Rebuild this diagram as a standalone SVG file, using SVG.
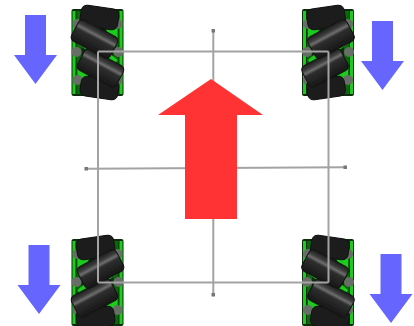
<svg xmlns="http://www.w3.org/2000/svg" xmlns:xlink="http://www.w3.org/1999/xlink" width="414" height="326" viewBox="0 0 414 326">
<defs>
<linearGradient id="rg" x1="0" y1="0" x2="0" y2="1">
<stop offset="0" stop-color="#1c1c1c"/><stop offset="0.2" stop-color="#3c3c3c"/><stop offset="0.33" stop-color="#6e6e6e"/><stop offset="0.45" stop-color="#2e2e2e"/><stop offset="1" stop-color="#161616"/>
</linearGradient>
<filter id="soft" x="-5%" y="-5%" width="110%" height="110%"><feGaussianBlur stdDeviation="0.6"/></filter>
<style>
.ln{stroke:#a3a3a3;stroke-width:2;fill:none}
.tip{fill:#777}
.blue{fill:#6666ff}
.red{fill:#ff3333}
.g0{fill:#0b2e0b}
.g1{fill:#0a660a}
.g2{fill:#1fcc1f}
.ball{fill:#666e66}
.r{fill:url(#rg);stroke:#121212;stroke-width:1}
.rd{fill:#1e1e1e;stroke:#111;stroke-width:1}
</style>
<g id="wheel" filter="url(#soft)">
<rect x="-26" y="-43" width="52" height="87" rx="2" class="g0"/>
<rect x="-25" y="-41" width="3" height="83" class="g2"/>
<rect x="22" y="-41" width="3" height="83" class="g2"/>
<rect x="-21" y="-41" width="5" height="83" class="g1"/>
<rect x="16" y="-41" width="5" height="83" class="g1"/>
<polygon points="-20,-20 -8,-16 20,8 16,14 4,8 -20,-8" class="g2"/>
<polygon points="-20,12 -6,20 -14,30 -20,26" class="g2"/>
<polygon points="8,-24 20,-26 20,-8 14,-10" class="g2"/>
<circle cx="-20" cy="-28" r="5" class="ball"/>
<circle cx="20" cy="-28" r="5" class="ball"/>
<circle cx="-21" cy="0" r="5" class="ball"/>
<circle cx="21" cy="0" r="5" class="ball"/>
<circle cx="-20" cy="28" r="5" class="ball"/>
<circle cx="20" cy="28" r="5" class="ball"/>
<g transform="translate(2,-35) rotate(8)"><rect x="-19" y="-10" width="38" height="21" rx="6" class="rd"/></g>
<g transform="translate(2,36) rotate(8)"><rect x="-19" y="-10" width="38" height="20" rx="6" class="rd"/></g>
<g transform="translate(3,16) rotate(28)"><rect x="-22" y="-12" width="44" height="24" rx="5" class="r"/></g>
<g transform="translate(-3,-13) rotate(28)"><rect x="-22" y="-12" width="44" height="24" rx="5" class="r"/></g>
</g>
<polygon id="down" points="-10.500,0 10.500,0 10.500,40 21.500,40 0,69 -21.500,40 -10.500,40" class="blue"/>
</defs>
<rect width="414" height="326" fill="#fff"/>
<g id="wheel-tl"><use xlink:href="#wheel" href="#wheel" transform="translate(97.500,52)"/></g>
<g id="wheel-tr"><use xlink:href="#wheel" href="#wheel" transform="translate(328,52) scale(-1,1)"/></g>
<g id="wheel-bl"><use xlink:href="#wheel" href="#wheel" transform="translate(97.500,282) scale(-1,1)"/></g>
<g id="wheel-br"><use xlink:href="#wheel" href="#wheel" transform="translate(328,282)"/></g>
<g id="connectors">
<line class="ln" x1="98" y1="51.500" x2="328.500" y2="51.500"/>
<line class="ln" x1="98" y1="282.500" x2="328.500" y2="282.500"/>
<line class="ln" x1="98" y1="51.500" x2="98" y2="282.500"/>
<line class="ln" x1="328.500" y1="51.500" x2="328.500" y2="282.500"/>
<line class="ln" x1="213.300" y1="31" x2="213.300" y2="295"/>
<line class="ln" x1="86" y1="168.700" x2="345" y2="167.300"/>
<rect class="tip" x="211.500" y="29" width="3.500" height="3.500"/>
<rect class="tip" x="211.500" y="293" width="3.500" height="3.500"/>
<rect class="tip" x="84.500" y="167" width="3.500" height="3.500"/>
<rect class="tip" x="343.500" y="165.500" width="3.500" height="3.500"/>
</g>
<g id="arrow-tl"><use xlink:href="#down" href="#down" transform="translate(35.500,15)"/></g>
<g id="arrow-tr"><use xlink:href="#down" href="#down" transform="translate(382.500,21)"/></g>
<g id="arrow-bl"><use xlink:href="#down" href="#down" transform="translate(39,245)"/></g>
<g id="arrow-br"><use xlink:href="#down" href="#down" transform="translate(391,254)"/></g>
<g id="arrow-red"><polygon class="red" points="211,79 263,115 237,115 237,219 185,219 185,115 158,115"/></g>
</svg>
